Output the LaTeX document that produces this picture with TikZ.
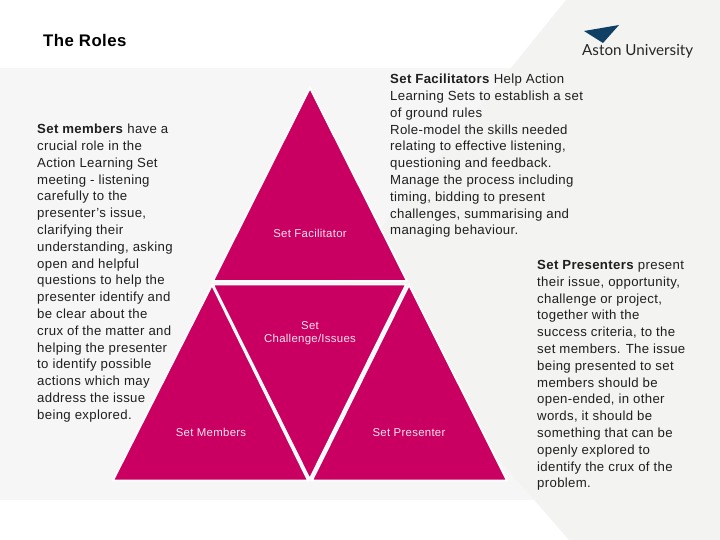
\documentclass[tikz,border=0pt]{standalone}
\usepackage{fontspec}
\setmainfont[LetterSpace=2.5]{Liberation Sans}
\newfontfamily\logofont{Lato}
\definecolor{magenta1}{HTML}{C90062}
\definecolor{bandlight}{HTML}{F6F6F6}
\definecolor{banddark}{HTML}{F3F3F2}
\definecolor{logoblue}{HTML}{0F3F63}
\tikzset{
  tri/.style={fill=magenta1,draw=white,line width=1.8pt,line join=miter},
  body/.style={anchor=north west,inner sep=0pt,align=left,font=\fontsize{13.2}{16.8}\selectfont,text=black!88},
  lab/.style={inner sep=0pt,align=center,text=white!90!magenta1,font=\fontsize{11.4}{13.2}\selectfont},
}
\begin{document}
\begin{tikzpicture}[x=1pt,y=-1pt]
\useasboundingbox (0,0) rectangle (720,540);
\fill[white] (0,0) rectangle (720,540);
\fill[bandlight] (0,68) rectangle (720,500);
\fill[banddark] (566,0) -- (341,278) -- (569,540) -- (720,540) -- (720,0) -- cycle;
% triangles
\draw[tri] (310,88) -- (407,281) -- (213,281) -- cycle;
\draw[tri] (212,285) -- (308,480.5) -- (113,480.5) -- cycle;
\draw[tri] (409,285) -- (507,480.5) -- (312,480.5) -- cycle;
\draw[tri] (213,284.5) -- (406,284.5) -- (309.7,479) -- cycle;
% labels
\node[lab] (lf) at (310,233.5) {Set Facilitator};
\node[lab] (lc) at (310,333) {Set\\Challenge/Issues};
\node[lab] (lm) at (211,432.5) {Set Members};
\node[lab] (lp) at (409,432.5) {Set Presenter};
% title
\node[anchor=base west,inner sep=0pt,font=\bfseries\fontsize{16.8}{18}\selectfont] (title) at (43,47) {The Roles};
% body texts
\node[body] (tm) at (37,124) {\textbf{Set members} have a\\crucial role in the\\Action Learning Set\\meeting - listening\\carefully to the\\presenter's issue,\\clarifying their\\understanding, asking\\open and helpful\\questions to help the\\presenter identify and\\be clear about the\\crux of the matter and\\helping the presenter\\to identify possible\\actions which may\\address the issue\\being explored.};
\node[body] (tf) at (390,74) {\textbf{Set Facilitators} Help Action\\Learning Sets to establish a set\\of ground rules\\Role-model the skills needed\\relating to effective listening,\\questioning and feedback.\\Manage the process including\\timing, bidding to present\\challenges, summarising and\\managing behaviour.};
\node[body] (tp) at (537,260) {\textbf{Set Presenters} present\\their issue, opportunity,\\challenge or project,\\together with the\\success criteria, to the\\set members. The issue\\being presented to set\\members should be\\open-ended, in other\\words, it should be\\something that can be\\openly explored to\\identify the crux of the\\problem.};
% logo
\fill[logoblue] (584,31) -- (619,25) -- (603,43) -- cycle;
\node[anchor=base west,inner sep=0pt,font=\logofont\fontsize{15.2}{18}\selectfont,text=black!85] (logo) at (582,55.5) {Aston University};
\end{tikzpicture}
\end{document}
